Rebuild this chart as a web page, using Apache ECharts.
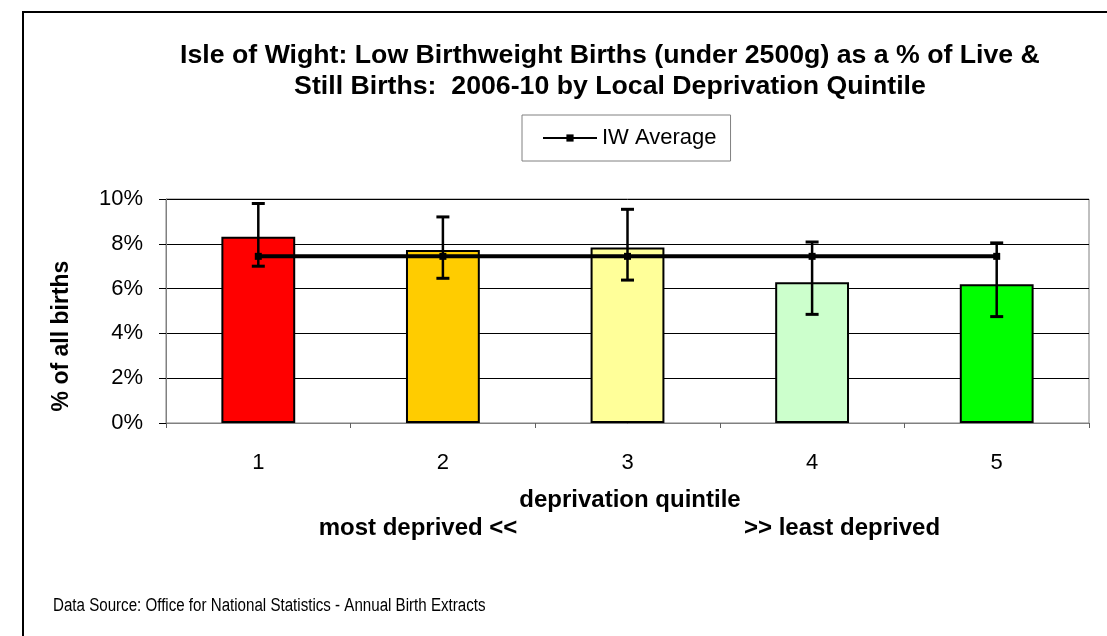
<!DOCTYPE html>
<html>
<head>
<meta charset="utf-8">
<script src="https://cdn.jsdelivr.net/npm/echarts@6/dist/echarts.min.js"></script>
<style>
  html, body { margin: 0; padding: 0; background: #fff; }
  #main { width: 1107px; height: 636px; }
</style>
</head>
<body>
<div id="main"></div>
<script>
// deprivation quintiles, 1 = most deprived
var quintiles = ['1', '2', '3', '4', '5']
// low birthweight births as % of live & still births
var lowBirthweightPct = [8.32, 7.72, 7.83, 6.28, 6.19]
// 95% confidence limits
var ciLower = [7.0, 6.46, 6.38, 4.85, 4.75]
var ciUpper = [9.8, 9.2, 9.54, 8.08, 8.04]
// Isle of Wight average
var iwAverage = [7.44, 7.44, 7.44, 7.44, 7.44]
var barColors = ['#ff0000', '#ffcc00', '#ffff99', '#ccffcc', '#00ff00']

var font = '"Liberation Sans", Arial, sans-serif'

var chartDom = document.getElementById('main')
var myChart = echarts.init(chartDom)
var option

var barData = lowBirthweightPct.map(function (v, i) {
  return { value: v, itemStyle: { color: barColors[i] } }
})
var errorData = quintiles.map(function (q, i) {
  return [i, ciLower[i], ciUpper[i]]
})

option = {
  animation: false,
  textStyle: { fontFamily: font, color: '#000' },
  grid: {
    left: 166,
    top: 199,
    right: 18,
    bottom: 213,
    show: true,
    borderColor: '#808080',
    borderWidth: 1,
    containLabel: false,
    outerBoundsMode: 'none'
  },
  legend: {
    data: ['IW Average'],
    left: 522,
    top: 115,
    padding: [12, 14, 12, 20],
    borderColor: '#808080',
    borderWidth: 1,
    itemWidth: 54,
    itemHeight: 9,
    textStyle: { fontSize: 22, fontFamily: font, color: '#000' }
  },
  xAxis: {
    type: 'category',
    data: quintiles,
    axisLine: { lineStyle: { color: '#808080', width: 1 } },
    axisTick: { show: true, length: 5, lineStyle: { color: '#606060' } },
    axisLabel: { fontSize: 22, margin: 29, color: '#000', fontFamily: font }
  },
  yAxis: {
    type: 'value',
    min: 0,
    max: 10,
    interval: 2,
    axisLine: { show: true, lineStyle: { color: '#808080', width: 1 } },
    axisTick: { show: true, length: 7, lineStyle: { color: '#000' } },
    axisLabel: {
      fontSize: 22,
      margin: 23,
      color: '#000',
      fontFamily: font,
      formatter: '{value}%'
    },
    splitLine: { show: true, lineStyle: { color: '#000', width: 1 } }
  },
  graphic: [
    {
      type: 'rect',
      z: -10,
      shape: { x: 23, y: 12, width: 1300, height: 900 },
      style: { fill: 'transparent', stroke: '#000', lineWidth: 2 }
    },
    {
      type: 'text',
      x: 610,
      y: 40,
      style: {
        text: 'Isle of Wight: Low Birthweight Births (under 2500g) as a % of Live &\nStill Births:  2006-10 by Local Deprivation Quintile',
        font: 'bold 26.7px ' + font,
        align: 'center',
        verticalAlign: 'top',
        lineHeight: 31,
        fill: '#000'
      }
    },
    {
      type: 'text',
      x: 62,
      y: 336,
      rotation: Math.PI / 2,
      style: {
        text: '% of all births',
        font: 'bold 23px ' + font,
        align: 'center',
        verticalAlign: 'middle',
        fill: '#000'
      }
    },
    {
      type: 'text',
      x: 630,
      y: 500,
      style: {
        text: 'deprivation quintile',
        font: 'bold 24px ' + font,
        align: 'center',
        verticalAlign: 'middle',
        fill: '#000'
      }
    },
    {
      type: 'text',
      x: 418,
      y: 528,
      style: {
        text: 'most deprived <<',
        font: 'bold 24px ' + font,
        align: 'center',
        verticalAlign: 'middle',
        fill: '#000'
      }
    },
    {
      type: 'text',
      x: 842,
      y: 528,
      style: {
        text: '>> least deprived',
        font: 'bold 24px ' + font,
        align: 'center',
        verticalAlign: 'middle',
        fill: '#000'
      }
    },
    {
      type: 'text',
      x: 53,
      y: 606,
      scaleX: 0.84,
      style: {
        text: 'Data Source: Office for National Statistics - Annual Birth Extracts',
        font: '18px ' + font,
        align: 'left',
        verticalAlign: 'middle',
        fill: '#000'
      }
    }
  ],
  series: [
    {
      name: 'Low birthweight %',
      type: 'bar',
      barWidth: '40%',
      data: barData,
      itemStyle: { borderColor: '#000', borderWidth: 2 },
      z: 2
    },
    {
      name: 'IW Average',
      type: 'line',
      data: iwAverage,
      symbol: 'rect',
      symbolSize: 7,
      lineStyle: { color: '#000', width: 4 },
      itemStyle: { color: '#000' },
      z: 3
    },
    {
      name: 'CI',
      type: 'custom',
      data: errorData,
      encode: { x: 0, y: [1, 2] },
      z: 4,
      renderItem: function (params, api) {
        var lo = api.coord([api.value(0), api.value(1)])
        var hi = api.coord([api.value(0), api.value(2)])
        var w = 6.5
        var stem = { stroke: '#000', lineWidth: 2.5 }
        var cap = { stroke: '#000', lineWidth: 3 }
        return {
          type: 'group',
          children: [
            { type: 'line', shape: { x1: lo[0], y1: lo[1], x2: hi[0], y2: hi[1] }, style: stem },
            { type: 'line', shape: { x1: lo[0] - w, y1: lo[1], x2: lo[0] + w, y2: lo[1] }, style: cap },
            { type: 'line', shape: { x1: hi[0] - w, y1: hi[1], x2: hi[0] + w, y2: hi[1] }, style: cap }
          ]
        }
      }
    }
  ]
}

option && myChart.setOption(option)

window.addEventListener('resize', () => {
  myChart.resize()
})
</script>
</body>
</html>
